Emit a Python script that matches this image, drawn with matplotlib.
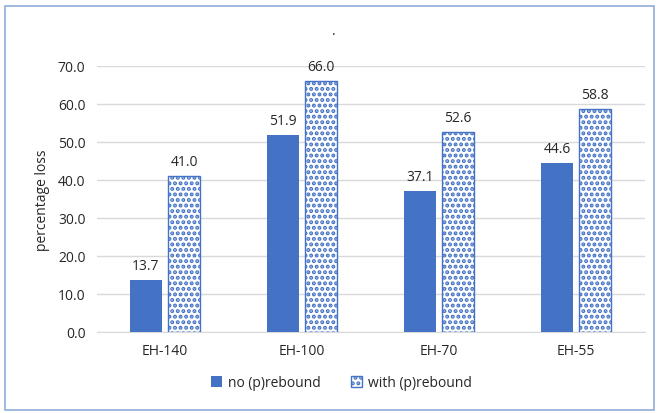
"""Percentage loss per dwelling type, with and without (p)rebound."""
import numpy as np
import matplotlib
matplotlib.use("Agg")
import matplotlib.pyplot as plt
from matplotlib.patches import Rectangle, Patch

categories = ["EH-140", "EH-100", "EH-70", "EH-55"]
no_rebound = [13.7, 51.9, 37.1, 44.6]
with_rebound = [41.0, 66.0, 52.6, 58.8]
yticks = [0, 10, 20, 30, 40, 50, 60, 70]

plt.rcParams["font.family"] = ["Open Sans", "DejaVu Sans"]
plt.rcParams["font.size"] = 10
plt.rcParams["hatch.color"] = "#1F6FC0"
plt.rcParams["hatch.linewidth"] = 2.0

fig = plt.figure(figsize=(6.57, 4.14), dpi=100)
ax = fig.add_axes([0.147, 0.1957, 0.834, 0.6425])

x = np.arange(len(categories))
w = 0.234
off = 0.139
solid = ax.bar(x - off, no_rebound, w, color="#4472C4", zorder=3)
dotted = ax.bar(x + off, with_rebound, w, facecolor="white", edgecolor="#4472C4",
                hatch="...", linewidth=1.0, zorder=3)

for bars, vals in ((solid, no_rebound), (dotted, with_rebound)):
    for b, v in zip(bars, vals):
        ax.annotate(f"{v:.1f}", (b.get_x() + b.get_width() / 2, v),
                    xytext=(0, 5), textcoords="offset points",
                    ha="center", va="bottom", fontsize=10, color="#262626")

ax.set_xlim(-0.5, len(categories) - 0.5)
ax.set_ylim(0, 70)
ax.set_yticks(yticks)
ax.set_yticklabels([f"{t:.1f}" for t in yticks], color="#262626")
ax.set_xticks(x)
ax.set_xticklabels(categories, color="#262626")
ax.tick_params(length=0, pad=8)
ax.yaxis.grid(True, color="#D9D9D9", linewidth=1.0, zorder=0)
for s in ("top", "right", "left"):
    ax.spines[s].set_visible(False)
ax.spines["bottom"].set_color("#D9D9D9")
ax.set_ylabel("percentage loss", fontsize=10, color="#262626", labelpad=6)

fig.text(0.508, 0.905, ".", ha="center", va="bottom", fontsize=10, color="#262626")

handles = [Patch(facecolor="#4472C4", label="no (p)rebound"),
           Patch(facecolor="white", edgecolor="#4472C4", hatch="...", label="with (p)rebound")]
fig.legend(handles=handles, loc="center", bbox_to_anchor=(0.52, 0.073), ncol=2,
           frameon=False, fontsize=10, handlelength=0.8, handleheight=0.8,
           columnspacing=2.2, handletextpad=0.4, labelcolor="#262626")

fig.patches.append(Rectangle((0.008, 0.008), 0.988, 0.976, transform=fig.transFigure,
                             fill=False, edgecolor="#8FAADC", linewidth=1.2))

fig.savefig("out.png", dpi=100)
